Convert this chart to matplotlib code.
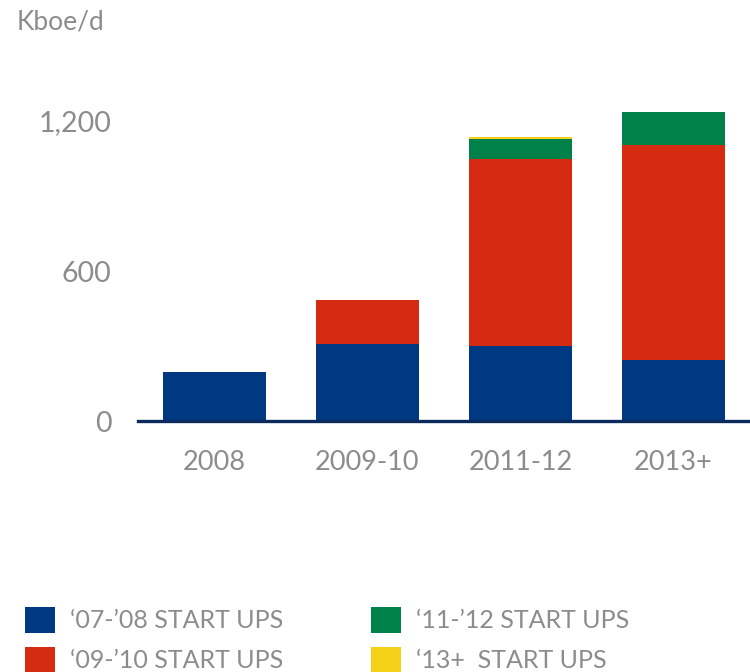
import numpy as np
import matplotlib
matplotlib.use("Agg")
import matplotlib.pyplot as plt
from matplotlib.patches import Patch

plt.rcParams['font.family'] = ['Lato', 'DejaVu Sans']

# data (Kboe/d)
periods = ["2008", "2009-10", "2011-12", "2013+"]
su_07_08 = [196, 308, 300, 244]
su_09_10 = [0, 176, 748, 860]
su_11_12 = [0, 0, 80, 132]
su_13 = [0, 0, 8, 0]
series_labels = ["\u201807-\u201908 START UPS", "\u201809-\u201910 START UPS",
                 "\u201811-\u201912 START UPS", "\u201813+  START UPS"]
colors = ["#003882", "#d52b13", "#00814a", "#f5d018"]
grey = "#8c8c8c"

fig = plt.figure(figsize=(7.5, 6.72), dpi=100)
ax = fig.add_axes([138 / 750, 1 - 421 / 672, 612 / 750, 325 / 672])

x = np.arange(len(periods))
bottom = np.zeros(len(periods))
for vals, col in zip([su_07_08, su_09_10, su_11_12, su_13], colors):
    ax.bar(x, vals, width=0.67, bottom=bottom, color=col, zorder=2)
    bottom += np.array(vals)

ax.set_xlim(-0.5, 3.5)
ax.set_ylim(0, 1300)
ax.set_yticks([0, 600, 1200])
ax.set_yticklabels(["0", "600", "1,200"])
ax.set_xticks(x)
ax.set_xticklabels(periods)
ax.tick_params(axis="y", length=0, pad=19, labelsize=20.5, labelcolor=grey)
ax.tick_params(axis="x", length=0, pad=21, labelsize=19.5, labelcolor=grey)
for s in ["top", "right", "left"]:
    ax.spines[s].set_visible(False)
ax.spines["bottom"].set_color("#0b2a5e")
ax.spines["bottom"].set_linewidth(2.4)
ax.spines["bottom"].set_zorder(3)

fig.text(17 / 750, 1 - 22 / 672, "Kboe/d", fontsize=19, color=grey, va="center", ha="left")

handles = [Patch(facecolor=c, edgecolor="none") for c in colors]
fig.legend(handles, series_labels, loc="upper left", bbox_to_anchor=(15 / 750, 1 - 597 / 672),
           ncol=2, frameon=False, fontsize=18, labelcolor=grey,
           handlelength=1.2, handleheight=1.2, handletextpad=0.6,
           labelspacing=0.57, columnspacing=3.5, borderaxespad=0)

fig.savefig("out.png", dpi=100)
